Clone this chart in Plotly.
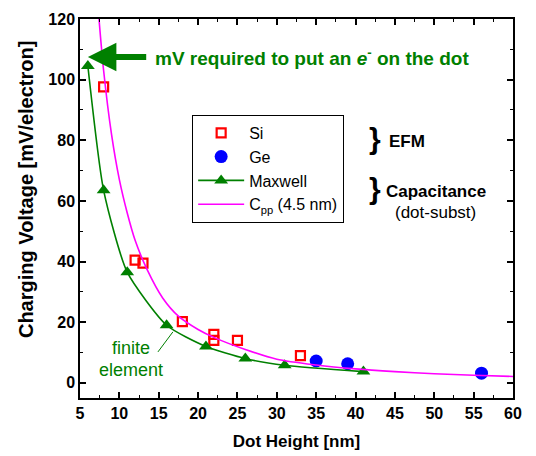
import plotly.graph_objects as go

# ---- data ----
si_x = [8, 12, 13, 18, 22, 22, 25, 33]
si_y = [97.6, 40.5, 39.5, 20.2, 16.0, 14.0, 14.0, 9.0]

ge_x = [35, 39, 56]
ge_y = [7.2, 6.3, 3.2]

maxwell_x = [6, 8, 11, 16, 21, 26, 31, 41]
maxwell_y = [104.5, 63.5, 36.5, 19.0, 12.0, 8.0, 5.8, 3.7]

cpp_x = [7.35, 8, 9, 10, 11, 12, 13.5, 15.5, 17.5, 20, 22, 26, 30, 35, 40, 45, 50, 55, 60]
cpp_y = [122, 103, 82, 67, 56, 47, 37.5, 28, 22, 17.6, 15, 11, 7.8, 5.9, 4.6, 3.7, 3.0, 2.5, 2.1]

x_ticks = [5, 10, 15, 20, 25, 30, 35, 40, 45, 50, 55, 60]
y_ticks = [0, 20, 40, 60, 80, 100, 120]

FONT = "Liberation Sans, Arial, sans-serif"
GREEN = "#008000"

fig = go.Figure()
fig.add_trace(go.Scatter(x=si_x, y=si_y, mode="markers", name="Si",
                         marker=dict(symbol="square-open", size=9, color="#ff0000",
                                     line=dict(width=2.2, color="#ff0000"))))
fig.add_trace(go.Scatter(x=ge_x, y=ge_y, mode="markers", name="Ge",
                         marker=dict(symbol="circle", size=13, color="#0000ff")))
fig.add_trace(go.Scatter(x=maxwell_x, y=maxwell_y, mode="lines+markers", name="Maxwell",
                         line=dict(color=GREEN, width=1.6, shape="spline", smoothing=0.6),
                         marker=dict(symbol="triangle-up", size=12, color=GREEN)))
fig.add_trace(go.Scatter(x=cpp_x, y=cpp_y, mode="lines", name="C<sub>pp</sub> (4.5 nm)",
                         line=dict(color="#ff00ff", width=1.6, shape="spline", smoothing=0.8)))

ann = []
# big arrow
ann.append(dict(x=6.0, y=107.5, ax=13.6, ay=107.5, xref="x", yref="y", axref="x", ayref="y",
                showarrow=True, arrowhead=2, arrowsize=0.95, arrowwidth=6, arrowcolor=GREEN, text=""))
ann.append(dict(x=14.3, y=107.5, xref="x", yref="y", xanchor="left", yanchor="middle",
                showarrow=False,
                text="<b>mV required to put an <i>e</i><sup>-</sup> on the dot</b>",
                font=dict(family=FONT, size=19, color=GREEN)))
# braces and labels
ann.append(dict(x=41.5, y=80.5, xref="x", yref="y", text="<b>}</b>", showarrow=False,
                xanchor="left", yanchor="middle", font=dict(family=FONT, size=30, color="black")))
ann.append(dict(x=41.5, y=64, xref="x", yref="y", text="<b>}</b>", showarrow=False,
                xanchor="left", yanchor="middle", font=dict(family=FONT, size=30, color="black")))
ann.append(dict(x=44.0, y=79.5, xref="x", yref="y", text="<b>EFM</b>", showarrow=False,
                xanchor="left", yanchor="middle", font=dict(family=FONT, size=17, color="black")))
ann.append(dict(x=43.6, y=63.2, xref="x", yref="y", text="<b>Capacitance</b>", showarrow=False,
                xanchor="left", yanchor="middle", font=dict(family=FONT, size=17, color="black")))
ann.append(dict(x=50.1, y=56.2, xref="x", yref="y", text="(dot-subst)", showarrow=False,
                xanchor="center", yanchor="middle", font=dict(family=FONT, size=17, color="black")))
# finite element
ann.append(dict(x=11.5, y=11.5, xref="x", yref="y", text="finite", showarrow=False,
                xanchor="center", yanchor="middle", font=dict(family=FONT, size=18, color=GREEN)))
ann.append(dict(x=11.5, y=4.3, xref="x", yref="y", text="element", showarrow=False,
                xanchor="center", yanchor="middle", font=dict(family=FONT, size=18, color=GREEN)))
# y-axis title (placed as in reference)
ann.append(dict(x=-0.125, y=0.551, xref="paper", yref="paper", textangle=-90, showarrow=False,
                text="<b>Charging Voltage [mV/electron]</b>", xanchor="center", yanchor="middle",
                font=dict(family=FONT, size=20, color="black")))

shapes = [dict(type="line", xref="x", yref="y", x0=14.9, y0=10.2, x1=16.8, y1=16.8,
               line=dict(color=GREEN, width=1))]

# page body has an 8px margin, so the figure is 8px smaller than the window
fig.update_layout(
    width=528, height=448,
    margin=dict(l=72, r=23, t=11, b=58),
    paper_bgcolor="white", plot_bgcolor="white",
    font=dict(family=FONT, color="black"),
    showlegend=True,
    legend=dict(x=0.259, y=0.747, xanchor="left", yanchor="top",
                bordercolor="black", borderwidth=1, bgcolor="white",
                font=dict(family=FONT, size=16), itemwidth=46, tracegroupgap=0),
    annotations=ann, shapes=shapes,
)
fig.update_xaxes(range=[5, 60], tickvals=x_ticks, ticktext=[str(v) for v in x_ticks],
                 automargin=False,
                 showgrid=False, zeroline=False, showline=True, linecolor="black", linewidth=1.5,
                 mirror="ticks", ticks="inside", ticklen=6, tickwidth=1.5, tickcolor="black",
                 minor=dict(ticks="inside", ticklen=3, dtick=2.5, tick0=5, tickcolor="black", tickwidth=1.2),
                 tickfont=dict(family=FONT, size=16, weight="bold"),
                 title=dict(text="<b>Dot Height [nm]</b>", font=dict(family=FONT, size=17), standoff=14))
fig.update_yaxes(range=[-5, 120], tickvals=y_ticks, ticktext=[str(v) for v in y_ticks],
                 automargin=False,
                 showgrid=False, zeroline=False, showline=True, linecolor="black", linewidth=1.5,
                 mirror="ticks", ticks="inside", ticklen=6, tickwidth=1.5, tickcolor="black",
                 minor=dict(ticks="inside", ticklen=3, dtick=10, tick0=0, tickcolor="black", tickwidth=1.2),
                 tickfont=dict(family=FONT, size=16, weight="bold"))

fig.write_html("out.html")
